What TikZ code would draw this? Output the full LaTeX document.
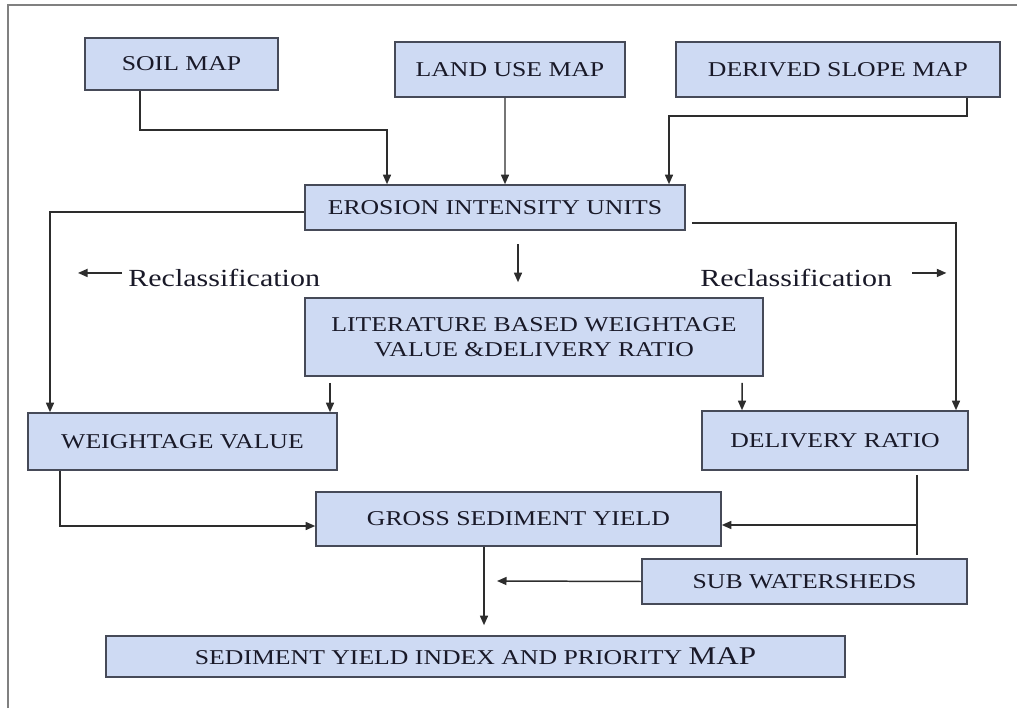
\documentclass[tikz,border=0pt]{standalone}
\usepackage{fontspec}
\setmainfont[FakeStretch=1.22]{Liberation Serif}
\usetikzlibrary{arrows.meta}
\definecolor{boxfill}{RGB}{206,218,243}
\definecolor{boxline}{RGB}{70,74,88}
\definecolor{frameline}{RGB}{128,128,128}
\definecolor{wire}{RGB}{45,45,45}
\definecolor{ink}{RGB}{25,25,40}
\tikzset{
  box/.style={draw=boxline, line width=0.9pt, fill=boxfill, inner sep=0pt, align=center, text=ink, font=\fontsize{12}{14.2}\selectfont},
  wireline/.style={wire, line width=0.85pt},
  arr/.style={wireline, -{Triangle[length=1.9mm,width=1.6mm]}},
  lbl/.style={inner sep=0pt, text=ink, font=\fontsize{14}{16}\selectfont}
}
\begin{document}
\begin{tikzpicture}
    \useasboundingbox (0,0) rectangle (20.34,14.16);
    \draw[frameline,line width=1.2pt] (0.16,0) -- (0.16,14.06) -- (20.34,14.06);
    % inputs
    \node[box, minimum width=3.86cm, minimum height=1.04cm] (soil) at (3.63,12.88) {SOIL MAP};
    \node[box, minimum width=4.6cm, minimum height=1.1cm] (landuse) at (10.2,12.77) {LAND USE MAP};
    \node[box, minimum width=6.48cm, minimum height=1.1cm] (slope) at (16.76,12.77) {DERIVED SLOPE MAP};
    \node[box, minimum width=7.6cm, minimum height=0.9cm] (erosion) at (9.9,10.01) {EROSION INTENSITY UNITS};
    \node[box, minimum width=9.16cm, minimum height=1.56cm] (literature) at (10.68,7.42) {LITERATURE BASED WEIGHTAGE\\VALUE \&DELIVERY RATIO};
    \node[box, minimum width=6.18cm, minimum height=1.14cm] (weight) at (3.65,5.33) {WEIGHTAGE VALUE};
    \node[box, minimum width=5.32cm, minimum height=1.18cm] (delivery) at (16.7,5.35) {DELIVERY RATIO};
    \node[box, minimum width=8.1cm, minimum height=1.08cm] (gross) at (10.37,3.78) {GROSS SEDIMENT YIELD};
    \node[box, minimum width=6.5cm, minimum height=0.9cm] (subws) at (16.09,2.53) {SUB WATERSHEDS};
    \node[box, minimum width=14.78cm, minimum height=0.82cm] (yieldmap) at (9.51,1.03) {SEDIMENT YIELD INDEX AND PRIORITY {\fontsize{14.5}{16}\selectfont MAP}};
    % labels
    \node[lbl, anchor=base west] (reclL) at (2.56,8.44) {Reclassification};
    \node[lbl, anchor=base west] (reclR) at (14.0,8.44) {Reclassification};
    \draw[arr] ([shift={(-0.12,0.09)}]reclL.west) -- ++(-0.88,0);
    \draw[arr] ([shift={(0.4,0.09)}]reclR.east) -- ++(0.68,0);
    % connectors
    \draw[arr] ([xshift=-0.83cm]soil.south) -- ++(0,-0.78) -| ([xshift=-2.16cm]erosion.north);
    \draw[arr] ([xshift=-0.1cm]landuse.south) -- ([xshift=0.2cm]erosion.north);
    \draw[arr] ([xshift=2.58cm]slope.south) -- ++(0,-0.36) -| ([xshift=3.48cm]erosion.north);
    \draw[arr] ([yshift=-0.09cm]erosion.west) -| ([xshift=-2.65cm]weight.north);
    \draw[arr] ([shift={(0.12,-0.31)}]erosion.east) -| ([xshift=2.42cm]delivery.north);
    \draw[arr] ([shift={(-0.32,1.06)}]literature.north) -- ([shift={(-0.32,0.3)}]literature.north);
    \draw[arr] ([shift={(-4.08,-0.12)}]literature.south) -- ([xshift=2.95cm]weight.north);
    \draw[arr] ([shift={(4.16,-0.12)}]literature.south) -- ([xshift=-1.86cm]delivery.north);
    \draw[arr] ([xshift=-2.45cm]weight.south) |- ([yshift=-0.14cm]gross.west);
    \coordinate (split) at (18.34,3.66);
    \draw[wireline] ([shift={(1.64,-0.08)}]delivery.south) -- ([shift={(2.25,0.06)}]subws.north);
    \draw[arr] (split) -- (split -| gross.east);
    \coordinate (merge) at (9.94,2.54);
    \draw[arr] (subws.west) -- (merge);
    \draw[arr] ([xshift=-0.69cm]gross.south) -- ([shift={(0.17,0.2)}]yieldmap.north);
\end{tikzpicture}
\end{document}
